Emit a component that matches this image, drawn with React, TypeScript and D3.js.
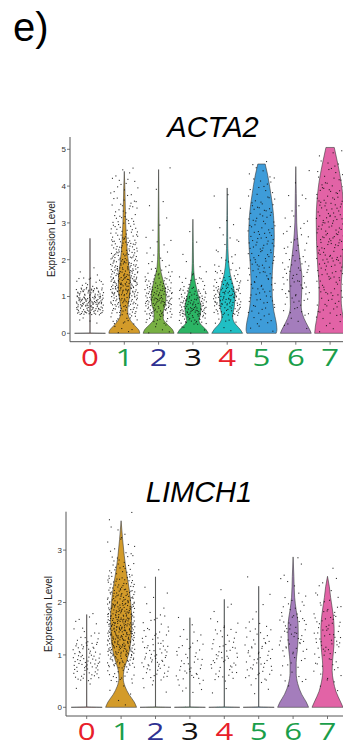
import React from "react";
import * as d3 from "d3";

// clusters and label colours
const categories = ["0", "1", "2", "3", "4", "5", "6", "7"];
const labelColors = ["#e8202a", "#1a9e4a", "#2e3192", "#111111", "#e8202a", "#1a9e4a", "#1a9e4a", "#1a9e4a"];
const fillColors = ["#F8766D", "#D39B2A", "#78B043", "#2CB565", "#20BFC4", "#3E9CD9", "#A47DBC", "#E263A6"];

// violin outlines: [expression, relative width]
const acta2Profiles: number[][][] = [
  [[0, 1], [0.01, 0.005], [2.58, 0.003]],
  [[0, 1], [0.08, 0.95], [0.2, 0.7], [0.35, 0.4], [0.5, 0.25], [0.65, 0.22], [0.9, 0.3], [1.2, 0.38], [1.5, 0.38], [1.8, 0.3], [2.2, 0.2], [2.7, 0.12], [3.3, 0.07], [3.9, 0.04], [4.4, 0]],
  [[0, 1], [0.1, 0.9], [0.25, 0.55], [0.4, 0.3], [0.55, 0.3], [0.8, 0.45], [1.0, 0.48], [1.25, 0.4], [1.5, 0.25], [1.8, 0.1], [2.2, 0.05], [3.0, 0.03], [4.45, 0]],
  [[0, 1], [0.1, 0.85], [0.25, 0.5], [0.35, 0.4], [0.5, 0.48], [0.7, 0.52], [0.95, 0.4], [1.2, 0.25], [1.5, 0.1], [1.9, 0.04], [2.5, 0.02], [3.1, 0]],
  [[0, 1], [0.1, 0.85], [0.3, 0.45], [0.45, 0.35], [0.7, 0.45], [1.0, 0.5], [1.3, 0.38], [1.6, 0.2], [2.0, 0.08], [2.6, 0.03], [3.2, 0.02], [3.95, 0]],
  [[0, 0.95], [0.1, 1], [0.3, 0.95], [0.6, 0.8], [1.0, 0.7], [1.4, 0.68], [2.0, 0.75], [2.6, 0.83], [3.2, 0.78], [3.8, 0.6], [4.3, 0.4], [4.6, 0.24]],
  [[0, 1], [0.1, 0.9], [0.3, 0.65], [0.5, 0.45], [0.75, 0.35], [1.1, 0.38], [1.5, 0.4], [1.9, 0.3], [2.4, 0.16], [3.0, 0.06], [3.8, 0.03], [4.53, 0]],
  [[0, 1], [0.2, 0.95], [0.5, 0.82], [0.9, 0.72], [1.3, 0.72], [1.8, 0.8], [2.5, 0.88], [3.1, 0.9], [3.6, 0.85], [4.1, 0.72], [4.6, 0.5], [5.05, 0.27]],
];

const limch1Profiles: number[][][] = [
  [[0, 1], [0.01, 0.005], [1.77, 0.003]],
  [[0, 1], [0.1, 0.85], [0.25, 0.5], [0.4, 0.25], [0.55, 0.14], [0.7, 0.18], [0.9, 0.38], [1.1, 0.55], [1.4, 0.66], [1.7, 0.68], [2.0, 0.62], [2.3, 0.5], [2.6, 0.33], [2.9, 0.2], [3.2, 0.1], [3.56, 0]],
  [[0, 1], [0.01, 0.005], [2.49, 0.003]],
  [[0, 1], [0.01, 0.005], [1.71, 0.003]],
  [[0, 1], [0.01, 0.005], [2.06, 0.003]],
  [[0, 1], [0.01, 0.005], [2.31, 0.003]],
  [[0, 1], [0.1, 0.85], [0.25, 0.55], [0.45, 0.3], [0.65, 0.2], [0.85, 0.2], [1.1, 0.28], [1.4, 0.33], [1.6, 0.32], [1.85, 0.2], [2.1, 0.1], [2.5, 0.05], [2.87, 0]],
  [[0, 1], [0.1, 0.85], [0.3, 0.55], [0.5, 0.38], [0.7, 0.3], [0.9, 0.33], [1.2, 0.42], [1.5, 0.43], [1.8, 0.35], [2.1, 0.2], [2.3, 0.12], [2.5, 0]],
];

// jittered cells: counts per 0.25 expression bin, starting at 0
const BIN = 0.25;
const acta2Counts = [
  [0, 4, 45, 60, 40, 12, 3, 1],
  [5, 15, 25, 35, 45, 45, 40, 35, 30, 25, 20, 15, 12, 10, 8, 6, 6, 4],
  [5, 15, 30, 40, 35, 22, 12, 6, 4, 3, 2, 2, 1, 1, 1, 1, 0, 1],
  [5, 25, 40, 35, 22, 10, 5, 2, 1, 1, 0, 1],
  [2, 8, 25, 35, 35, 20, 10, 6, 4, 3, 3, 2, 1, 1, 1, 1],
  [3, 6, 8, 10, 10, 10, 10, 12, 12, 12, 12, 10, 10, 10, 8, 6, 5, 4, 2],
  [2, 4, 6, 8, 10, 10, 10, 8, 6, 6, 5, 4, 3, 2, 2, 1, 1, 1],
  [3, 6, 8, 8, 10, 10, 12, 12, 14, 14, 14, 14, 14, 12, 12, 10, 8, 6, 4, 3],
];
const limch1Counts = [
  [0, 2, 20, 30, 22, 10, 5, 1],
  [2, 5, 15, 40, 60, 70, 70, 60, 45, 30, 18, 10, 6, 3, 2],
  [0, 3, 15, 20, 18, 12, 8, 4, 2, 1, 1],
  [0, 6, 15, 12, 10, 6, 2],
  [0, 2, 12, 16, 14, 10, 5, 3, 1],
  [0, 4, 12, 15, 14, 10, 5, 2, 1, 1],
  [0, 2, 5, 8, 12, 15, 15, 8, 5, 3, 2, 1],
  [0, 3, 6, 10, 14, 16, 14, 10, 6, 3, 1],
];

const acta2Ticks = [0, 1, 2, 3, 4, 5];
const limch1Ticks = [0, 1, 2, 3];

const SANS = "'Liberation Sans', Arial, sans-serif";

// low-discrepancy spread for placing dots inside a bin
const halton = (i: number, base: number) => {
  let f = 1;
  let r = 0;
  while (i > 0) {
    f /= base;
    r += f * (i % base);
    i = Math.floor(i / base);
  }
  return r;
};

type PanelProps = {
  title: string;
  titleX: number;
  titleY: number;
  profiles: number[][][];
  counts: number[][];
  ticks: number[];
  yMax: number;
  yZero: number;
  yTopPx: number;
  axisTop: number;
  axisBottom: number;
  axisX: number;
  xStart: number;
  xEnd: number;
  labelBaseline: number;
  yLabelX: number;
  yLabelY: number;
  seed: number;
};

const Panel = (p: PanelProps) => {
  const x = d3.scaleBand().domain(categories).range([p.xStart, p.xEnd]).padding(0);
  const y = d3.scaleLinear().domain([0, p.yMax]).range([p.yZero, p.yTopPx]);
  const half = x.bandwidth() * 0.45;
  const jitter = x.bandwidth() * 0.4;

  return (
    <g>
      <text x={p.titleX} y={p.titleY} textAnchor="middle" fontFamily={SANS} fontStyle="italic" fontSize={29} fill="#000">
        {p.title}
      </text>

      {/* violins */}
      {categories.map((c, i) => {
        const cx = (x(c) as number) + x.bandwidth() / 2;
        const area = d3
          .area<number[]>()
          .y((d) => y(d[0]))
          .x0((d) => cx - d[1] * half)
          .x1((d) => cx + d[1] * half)
          .curve(d3.curveMonotoneY);
        return (
          <path key={"v" + c} d={area(p.profiles[i]) || ""} fill={fillColors[i]} stroke="#3a3a3a" strokeWidth={0.6} />
        );
      })}

      {/* jittered points */}
      {categories.map((c, i) => {
        const cx = (x(c) as number) + x.bandwidth() / 2;
        const pts: JSX.Element[] = [];
        let n = 0;
        p.counts[i].forEach((cnt, b) => {
          for (let k = 0; k < cnt; k++) {
            n++;
            const idx = n + p.seed + i * 17;
            const u = halton(idx, 2);
            const v = halton(idx, 3);
            const val = b * BIN + v * BIN;
            pts.push(
              <rect key={n} x={cx + (u * 2 - 1) * jitter - 0.55} y={y(val) - 0.55} width={1.1} height={1.1} fill="#111" fillOpacity={0.85} />
            );
          }
        });
        return <g key={"p" + c}>{pts}</g>;
      })}

      {/* y axis */}
      <line x1={p.axisX} x2={p.axisX} y1={p.axisTop} y2={p.axisBottom} stroke="#555" strokeWidth={1} />
      {p.ticks.map((t) => (
        <g key={"yt" + t}>
          <line x1={p.axisX - 3} x2={p.axisX} y1={y(t)} y2={y(t)} stroke="#555" strokeWidth={0.8} />
          <text x={p.axisX - 4} y={y(t) + 2.8} textAnchor="end" fontFamily={SANS} fontSize={8} fill="#333">
            {t}
          </text>
        </g>
      ))}
      <text
        transform={`translate(${p.yLabelX},${p.yLabelY}) rotate(-90)`}
        textAnchor="middle"
        fontFamily={SANS}
        fontSize={10}
        fill="#222"
      >
        Expression Level
      </text>

      {/* x axis */}
      <line x1={p.axisX} x2={343} y1={p.axisBottom} y2={p.axisBottom} stroke="#555" strokeWidth={1} />
      {categories.map((c, i) => {
        const cx = (x(c) as number) + x.bandwidth() / 2;
        return (
          <g key={"xt" + c}>
            <line x1={cx} x2={cx} y1={p.axisBottom} y2={p.axisBottom + 3} stroke="#555" strokeWidth={0.8} />
            <text
              transform={`translate(${cx},${p.labelBaseline}) scale(1.3,1)`}
              textAnchor="middle"
              fontFamily="'Open Sans', sans-serif"
              fontSize={24}
              fill={labelColors[i]}
            >
              {c}
            </text>
          </g>
        );
      })}
    </g>
  );
};

export default function App() {
  return (
    <svg width={343} height={746} style={{ position: "absolute", left: 0, top: 0, background: "#fff" }}>
      <rect width={343} height={746} fill="#fff" />
      <text x={13} y={41} fontFamily={SANS} fontSize={40} fill="#000">
        e)
      </text>
      <Panel
        title="ACTA2"
        titleX={213}
        titleY={136.7}
        profiles={acta2Profiles}
        counts={acta2Counts}
        ticks={acta2Ticks}
        yMax={5}
        yZero={333.3}
        yTopPx={149.3}
        axisTop={137}
        axisBottom={341.7}
        axisX={70}
        xStart={72.85}
        xEnd={347.25}
        labelBaseline={366}
        yLabelX={55}
        yLabelY={239}
        seed={0}
      />
      <Panel
        title="LIMCH1"
        titleX={199}
        titleY={501.7}
        profiles={limch1Profiles}
        counts={limch1Counts}
        ticks={limch1Ticks}
        yMax={3}
        yZero={707.3}
        yTopPx={550.1}
        axisTop={511.7}
        axisBottom={716}
        axisX={66}
        xStart={69.5}
        xEnd={344.7}
        labelBaseline={739.5}
        yLabelX={52}
        yLabelY={614}
        seed={3}
      />
    </svg>
  );
}
